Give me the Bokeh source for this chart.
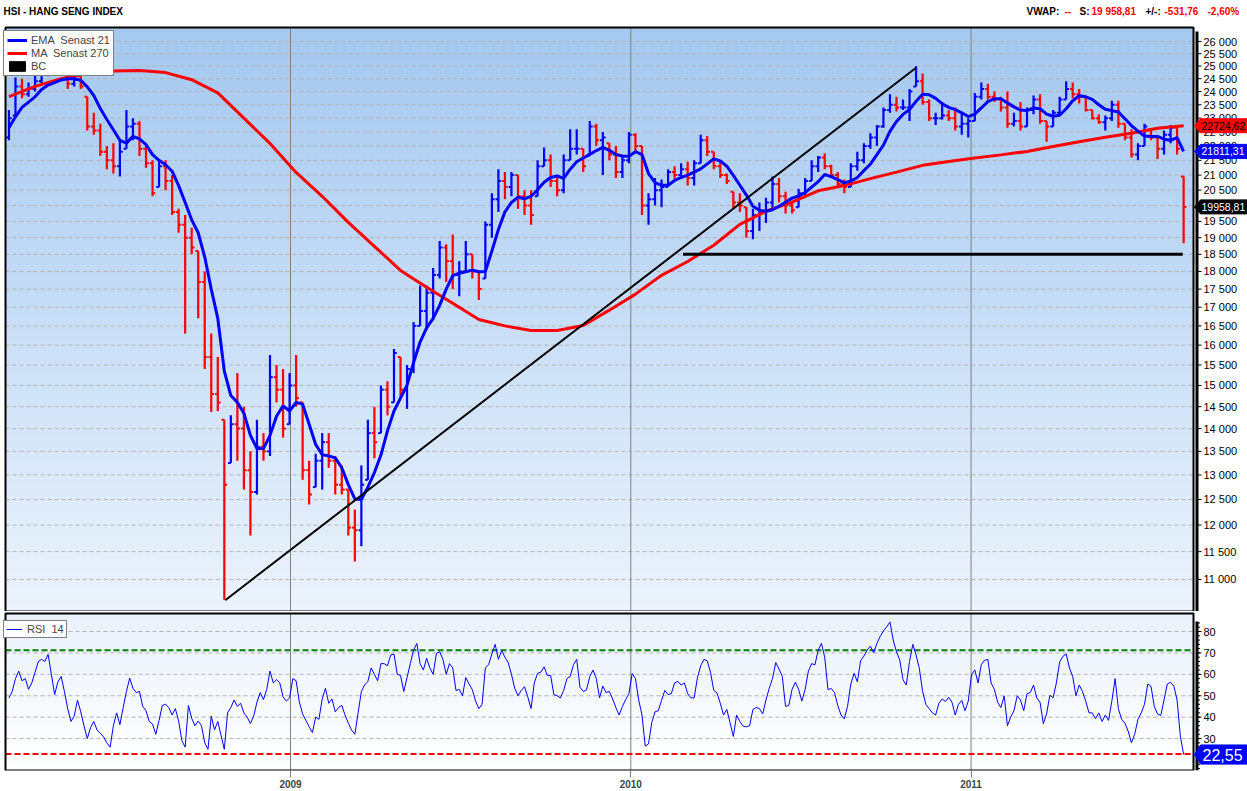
import numpy as np
import pandas as pd
from bokeh.plotting import figure
from bokeh.layouts import column
from bokeh.models import (Range1d, FixedTicker, CustomJSTickFormatter, Legend, LegendItem,
                          ColumnDataSource)
from bokeh.embed import file_html
from bokeh.resources import INLINE
from bokeh.core.properties import value

# ---------------- data (weekly bars) ----------------
START = "2008-03-05"
first_open = 22300
closes = [
    23000, 24200, 23900, 24100, 24400, 24800, 25100, 25500, 25000, 24300,
    24600, 24200, 22700, 22550, 21800, 21500, 21300, 21800, 22700, 22800,
    21900, 21400, 20400, 21300, 20800, 19800, 19400, 19000, 18700, 17700,
    15700, 14800, 14600, 12800, 14100, 14000, 13100, 12650, 13600, 13500,
    15200, 14900, 14000, 15000, 14700, 13100, 12600, 13300, 13700, 13300,
    12800, 12700, 11950, 11900, 12800, 13900, 13700, 14900, 14500, 15800,
    14900, 15400, 16500, 16900, 17400, 17900, 18700, 18300, 17900, 18000,
    18500, 18000, 17500, 19400, 20200, 20800, 20600, 21000, 20300, 20000,
    19700, 21300, 21500, 20800, 20500, 21500, 21900, 21900, 21300, 22700,
    22200, 22300, 21700, 21100, 21500, 22400, 22000, 20000, 20200, 20500,
    20600, 21100, 21000, 21200, 20900, 21400, 22200, 21800, 21300, 21000,
    20800, 20100, 20000, 19200, 19700, 19800, 20100, 20700, 20300, 20000,
    19850, 20400, 20800, 21300, 21600, 21300, 21000, 20700, 20600, 21300,
    21500, 22000, 22300, 22700, 23300, 23500, 23400, 23400, 24000, 24400,
    23600, 23000, 23000, 23100, 23000, 22700, 22800, 22900, 23800, 24100,
    23800, 23700, 23400, 22800, 22900, 22700, 23300, 23700, 22900, 22700,
    23200, 23700, 24100, 23900, 23800, 23300, 23000, 22850, 23000, 23500,
    22800, 22300, 21700, 22000, 22700, 22300, 21900, 22400, 22650, 21900,
    19958.81]
highs = [
    23300, 24550, 24500, 24350, 24650, 25000, 25300, 25700, 25600, 25200,
    24900, 24700, 23800, 23200, 22800, 22000, 22100, 22200, 23300, 23000,
    22900, 22100, 21500, 21500, 21500, 21000, 19900, 19700, 19300, 18600,
    18000, 16300, 15700, 14200, 14300, 15300, 14500, 13500, 14200, 13900,
    15750, 15500, 15400, 15300, 15750, 14600, 13300, 13450, 13900, 13900,
    13400, 13200, 12700, 12300, 13200, 14200, 14500, 15000, 15100, 15900,
    15700, 15500, 16600, 17600, 17600, 18100, 18900, 18800, 19100, 18300,
    18900, 18500, 18000, 19500, 20400, 21200, 21100, 21100, 21000, 20500,
    20500, 21500, 21950, 21700, 21000, 21700, 22600, 22600, 21900, 22900,
    22800, 22500, 22100, 22000, 21650, 22500, 22450, 22000, 20400, 20900,
    20850, 21200, 21300, 21400, 21450, 21500, 22400, 22350, 21800, 21450,
    21050, 20450, 20400, 19950, 19900, 20100, 20250, 20950, 20900, 20450,
    20100, 20550, 20900, 21500, 21650, 21750, 21350, 21100, 20850, 21400,
    21800, 22100, 22450, 22750, 23400, 23900, 23800, 23700, 24100, 24990,
    24700, 23700, 23200, 23600, 23300, 23400, 23200, 23000, 23950, 24350,
    24300, 24000, 23800, 24000, 23200, 23600, 23400, 23850, 23900, 22900,
    23300, 23800, 24400, 24350, 24100, 23800, 23300, 23150, 23100, 23650,
    23650, 22800, 22600, 22100, 22800, 22600, 22300, 22550, 22750, 22700,
    20950]
lows = [
    22200, 23100, 23750, 23800, 24000, 24300, 24600, 25000, 24800, 24100,
    24200, 24100, 22550, 22400, 21650, 21200, 21050, 20950, 21900, 22200,
    21650, 21250, 20300, 20600, 20500, 19700, 19150, 16300, 18500, 16700,
    15400, 14380, 14400, 10650, 13250, 13300, 12700, 11800, 12600, 13300,
    13400, 14600, 13800, 14100, 14500, 12900, 12400, 12750, 12700, 13150,
    12600, 12600, 11800, 11320, 11600, 12900, 13350, 13900, 14300, 14600,
    14700, 14450, 15300, 16500, 16400, 16650, 17800, 17700, 17500, 17300,
    18000, 17800, 17200, 17800, 19000, 19800, 20200, 20300, 19900, 19700,
    19400, 20300, 21300, 20600, 20300, 20400, 21500, 21700, 21100, 21700,
    22000, 21000, 21500, 20900, 20900, 21400, 21800, 19700, 19400, 20000,
    19950, 20600, 20880, 20900, 20650, 20650, 21400, 21650, 21200, 20900,
    20700, 19900, 19800, 19000, 18950, 19200, 19450, 19850, 20100, 19750,
    19750, 19950, 20350, 20800, 21100, 21200, 20900, 20600, 20400, 20600,
    21150, 21400, 21900, 22000, 22650, 23200, 23250, 23300, 22900, 24200,
    23500, 22900, 22750, 22950, 22900, 22550, 22400, 22300, 22900, 23700,
    23700, 23600, 23250, 22650, 22700, 22550, 22700, 23150, 22800, 22150,
    22700, 23100, 23700, 23750, 23550, 23250, 22950, 22800, 22550, 22900,
    22650, 22200, 21600, 21500, 22000, 22200, 21550, 21700, 22100, 21700,
    18830]
ema21 = [
    22650, 23050, 23400, 23600, 23800, 24080, 24250, 24350, 24450, 24500,
    24500, 24440, 24180, 23850, 23360, 22950, 22580, 22200, 22100, 22340,
    22250, 22050, 21700, 21500, 21350, 21130, 20650, 20100, 19550, 19150,
    18420, 17500, 16700, 15350, 14760, 14600, 14350, 13850, 13560, 13560,
    13850, 14280, 14520, 14400, 14600, 14560, 14100, 13650, 13430, 13400,
    13360, 13150, 12800, 12510, 12500, 12750, 13050, 13420, 13950, 14400,
    14700, 15010, 15560, 16080, 16450, 16700, 17050, 17500, 17880, 17950,
    17990, 18040, 17990, 18000, 18600, 19250, 19800, 20100, 20270, 20220,
    20300, 20510, 20760, 20920, 20970, 20890, 21200, 21450, 21580, 21700,
    21840, 21950, 21850, 21700, 21650, 21640, 21800, 21700, 21050, 20750,
    20660, 20660, 20820, 20920, 21000, 21100, 21210, 21380, 21550, 21480,
    21300, 20990, 20660, 20340, 19980, 19850, 19820, 19870, 19980, 20110,
    20240, 20310, 20420, 20600, 20780, 21020, 20950, 20850, 20740, 20800,
    20920, 21150, 21370, 21700, 22030, 22520, 22880, 23140, 23320, 23630,
    23900, 23880, 23740, 23540, 23400, 23320, 23200, 23060, 23150, 23380,
    23620, 23730, 23730, 23570, 23420, 23300, 23280, 23380, 23350, 23150,
    23070, 23110, 23350, 23650, 23840, 23800, 23700, 23500, 23330, 23280,
    23230, 22980, 22730, 22530, 22350, 22340, 22340, 22240, 22200, 22300,
    21811.31]
ma270 = [
    23810, 24200, 24500, 24720, 24800, 24820, 24740, 24460, 23950, 23000,
    22090, 21090, 20300, 19470, 18740, 18030, 17550, 17110, 16670, 16500,
    16380, 16380, 16510, 16920, 17360, 17890, 18290, 18770, 19410, 19820,
    20110, 20480, 20650, 20880, 21100, 21330, 21460, 21580, 21690, 21810,
    21980, 22150, 22310, 22450, 22630, 22724.62]
rsi14 = [
    49, 52, 58, 61.5, 57, 58, 53, 56, 61, 66,
    67, 66, 69.3, 60, 50.5, 56.5, 59, 52, 44, 38,
    40.5, 48, 42.5, 36, 30, 35.1, 38, 34, 32.5, 30.8,
    28, 26, 36, 42, 36.5, 44.5, 52, 58.2, 53.5, 51.5,
    52, 45, 43, 38, 36.8, 32, 38.5, 45.5, 46, 44.5,
    41, 44, 38.2, 29, 26, 45.5, 39.5, 36, 38.2, 36,
    28, 25, 40.5, 34, 38, 31.5, 25, 42, 44.5, 48,
    45, 46.5, 42, 40, 37, 40.5, 47, 51.5, 48.2, 53,
    61.5, 56, 57.5, 56, 49.5, 47.5, 49, 58, 57, 47,
    41.5, 38.5, 35.5, 32.8, 40, 39, 48.5, 53.5, 46.5, 48.5,
    42.5, 44.5, 45.5, 41, 37.2, 34, 32, 42, 52, 55,
    56.7, 63, 60, 57, 65, 65, 64, 69, 69.5, 60,
    59.5, 52, 58.5, 65, 71.3, 74.4, 65, 62, 67.5, 63,
    60, 69.8, 70.5, 67, 60, 65, 63, 52.5, 52.9, 50,
    58.5, 55.5, 52.9, 47.5, 44, 46, 63, 64.5, 69.5, 74,
    67, 71, 68, 65.5, 60, 53.5, 50, 52.5, 54.2, 49.5,
    44, 56, 60.5, 61, 63.5, 59.5, 59.5, 50.5, 50, 49,
    52.5, 58, 59, 64.5, 67, 54, 52, 52.7, 59, 62,
    58, 49, 54.5, 51.5, 52, 48.5, 44.5, 41, 45, 48.2,
    51, 60.4, 58, 48, 41, 26.5, 27.5, 37.5, 42.5, 43,
    47.8, 52.5, 50.5, 51, 56, 56.7, 55, 56, 51, 49,
    49, 58.5, 64, 67, 66.3, 61, 52.5, 51.3, 46.5, 41,
    43.6, 37.4, 31, 41, 38, 35.8, 35.5, 36, 43.6, 44.5,
    44, 41.5, 48, 53.5, 58, 65.5, 62.5, 59, 45, 45.5,
    53, 56.3, 53, 47.5, 52.9, 61.5, 65, 64.4, 71.3, 74.5,
    68, 52.9, 53.4, 51.5, 45.5, 41, 39.2, 45, 55.5, 60.5,
    56.5, 66.3, 68.5, 71.3, 73.2, 70, 74.4, 77.7, 80.2, 82.2,
    84.4, 76, 70.5, 66.7, 57.4, 55, 66, 74, 69, 62.8,
    52, 46, 44, 42, 41, 46.5, 48.5, 47.3, 49.3, 47,
    41, 46, 47.8, 43, 47.5, 59.8, 62.1, 56, 64.6, 66.5,
    67, 56, 53, 47, 44.5, 50, 36, 40, 43, 50,
    48, 43, 51, 51.5, 55, 49, 47, 37, 41.5, 50.2,
    49, 56, 65.7, 68.4, 69.5, 63, 59, 50, 55, 52,
    47.5, 42, 42, 39.3, 42, 38, 41, 38.5, 47.5, 58,
    44, 39, 37.2, 33.5, 28, 32, 39, 42, 46, 55.5,
    54.4, 45, 41.5, 40.8, 48, 55.5, 56.3, 54.5, 48, 31,
    22.55]
price_ticks = list(range(11000, 26001, 500))
rsi_ticks = [30, 40, 50, 60, 70, 80]
rsi_minor = list(range(16, 86, 2))
year_starts = ["2009-01-01", "2010-01-01", "2011-01-01"]
trend_dates = ["2008-10-23", "2010-11-03"]
trend_values = [10640, 24930]
support_dates = ["2010-02-26", "2011-08-16"]
support_values = [18500, 18500]
rsi_upper, rsi_lower = 71.3, 22.8
last_price, change, change_pct = 19958.81, -531.76, -2.60
ema_last, ma_last, rsi_last = 21811.31, 22724.62, 22.55

# ---------------- layout geometry (canvas pixels) ----------------
FONT = "Liberation Sans"
BLUE, RED = "#0000ff", "#ff0000"
W = 1247
H1, H2 = 611, 179
PX_L, PX_R = 5, 1193            # data area left/right
PY_T, PY_B = 27, 611            # main data area top/bottom
RY_T, RY_B = 613, 769           # RSI data area top/bottom (canvas)
Y0, Y1 = 10450, 26590
R0, R1 = 15.1, 88.4

A = pd.Timestamp("2008-03-01 07:00").value / 1e6
B = pd.Timestamp("2011-08-27 14:00").value / 1e6
mpp = (B - A) / (PX_R - PX_L)


def X(px):
    return A + (px - PX_L) * mpp


kk = np.log(Y1 / Y0) / (PY_B - PY_T)


def Yp(py):
    return float(np.exp(np.log(Y1) - (py - PY_T) * kk))


def PYv(v):
    return PY_T + (np.log(Y1) - np.log(v)) / kk


rk = (R1 - R0) / (RY_B - RY_T)


def Rp(py):
    return R1 - (py - RY_T) * rk


def RPv(v):
    return RY_T + (R1 - v) / rk


def sv(num, dec=2, group=False):
    s = f"{num:,.{dec}f}" if group else f"{num:.{dec}f}"
    return s.replace(",", " ").replace(".", ",")


def hexc(c):
    return "#%02x%02x%02x" % tuple(int(round(v)) for v in c)


week_dates = pd.date_range(START, periods=len(closes), freq="7D")
ma_dates = pd.date_range(START, periods=len(ma270), freq="28D")
rsi_dates = pd.date_range(START, periods=len(rsi14), freq=pd.Timedelta(hours=84))
year_ms = [pd.Timestamp(d).value / 1e6 for d in year_starts]
xr = Range1d(X(0), X(W))


def txt(p, xs, ys, texts, size="11px", color="black", style="normal", align="left"):
    p.text(x=xs, y=ys, text=texts, text_font=value(FONT), text_font_size=size,
           text_color=color, text_font_style=style, text_align=align,
           text_baseline="middle")


def tag(p, py, label, bg, fg, half, size, conv, tx=1201):
    xs = [X(1194), X(1200), X(W + 2), X(W + 2), X(1200)]
    ys = [conv(py), conv(py - half), conv(py - half), conv(py + half), conv(py + half)]
    p.patch(xs, ys, fill_color=bg, line_color=bg)
    txt(p, [X(tx)], [conv(py)], [label], size=size, color=fg)


# ---------------- main price panel ----------------
p1 = figure(width=W, height=H1, x_axis_type="datetime", y_axis_type="log",
            x_range=xr, y_range=Range1d(Yp(PY_B), Yp(0)),
            x_axis_location=None, y_axis_location=None,
            output_backend="svg", toolbar_location=None, title=None,
            min_border_left=0, min_border_right=0, min_border_top=0, min_border_bottom=0)
p1.background_fill_color = "white"
p1.border_fill_color = "white"
p1.outline_line_color = None
p1.xgrid.grid_line_color = None
p1.ygrid.grid_line_color = None

nb = 110
edges = np.geomspace(Y0, Y1, nb + 1)
top_c = np.array([164, 200, 240.0])
bot_c = np.array([236, 243, 252.0])
fr = (np.arange(nb) + 0.5) / nb
band_cols = [hexc(bot_c + (top_c - bot_c) * f) for f in fr]
p1.quad(left=A, right=B, bottom=edges[:-1], top=edges[1:],
        fill_color=band_cols, line_color=band_cols, line_width=1, level="image")

p1.segment(x0=A, x1=B, y0=price_ticks, y1=price_ticks, line_color="#b4b4b4",
           line_dash="4 3", line_width=1, level="underlay")
p1.segment(x0=year_ms, x1=year_ms, y0=Y0, y1=Y1, line_color="#808080",
           line_width=1, level="underlay")

# OHLC bars (open tick = previous close, kept within the bar's range)
c_arr = np.array(closes, dtype=float)
h_arr = np.array(highs, dtype=float)
l_arr = np.array(lows, dtype=float)
o_arr = np.clip(np.r_[first_open, c_arr[:-1]], l_arr, h_arr)
cols = [BLUE if c >= o else RED for o, c in zip(o_arr, c_arr)]
tick = pd.Timedelta(days=3.0)
src = ColumnDataSource(dict(x=week_dates, xl=week_dates - tick, xr=week_dates + tick,
                            o=o_arr, h=h_arr, l=l_arr, c=c_arr, col=cols))
p1.segment(x0="x", y0="l", x1="x", y1="h", line_color="col", line_width=2.2, source=src)
p1.segment(x0="xl", y0="o", x1="x", y1="o", line_color="col", line_width=2, source=src)
p1.segment(x0="x", y0="c", x1="xr", y1="c", line_color="col", line_width=2, source=src)

ma_r = p1.line(ma_dates, ma270, line_color=RED, line_width=3)
ema_r = p1.line(week_dates, ema21, line_color=BLUE, line_width=3)
p1.line(pd.to_datetime(trend_dates), trend_values, line_color="black", line_width=2)
p1.line(pd.to_datetime(support_dates), support_values, line_color="black", line_width=3)
bc_r = p1.quad(left=[A], right=[A], bottom=[5000], top=[5000],
               fill_color="black", line_color="black")

# frame of the data area
p1.quad(left=A, right=B, bottom=Y0, top=Y1, fill_color=None,
        line_color="black", line_width=2)

# right price axis
p1.segment(x0=X(1196.5), x1=X(1196.5), y0=Yp(31), y1=Yp(PY_B), line_color="black",
           line_width=3)
p1.segment(x0=X(1197.5), x1=X(1201), y0=price_ticks, y1=price_ticks,
           line_color="black", line_width=1)
txt(p1, [X(1203)] * len(price_ticks), price_ticks,
    [sv(t, 0, group=True) for t in price_ticks])

tag(p1, PYv(ma_last), sv(ma_last), RED, "black", 7, "10.5px", Yp)
tag(p1, PYv(ema_last), sv(ema_last), BLUE, "white", 7, "10.5px", Yp)
tag(p1, PYv(last_price), sv(last_price), "black", "white", 7, "10.5px", Yp)

# header
hy = Yp(10.5)
txt(p1, [X(3)], [hy], ["HSI - HANG SENG INDEX"], size="10px", style="bold")
hx = [1026, 1064, 1079, 1091, 1145, 1164, 1207]
htext = ["VWAP:", "--", "S:", sv(last_price, group=True), "+/-:", sv(change),
         sv(change_pct) + "%"]
hcol = ["black", RED, "black", RED, "black", RED, RED]
txt(p1, [X(v) for v in hx], [hy] * len(hx), htext, size="10px", color=hcol, style="bold")

leg = Legend(items=[LegendItem(label="EMA  Senast 21", renderers=[ema_r]),
                    LegendItem(label="MA  Senast 270", renderers=[ma_r]),
                    LegendItem(label="BC", renderers=[bc_r])],
             location=(3, PY_B - 76), margin=0, padding=3, spacing=1,
             glyph_width=20, glyph_height=12, label_height=12, label_standoff=4,
             label_text_font=FONT, label_text_font_size="11px",
             border_line_color="black", border_line_width=1,
             background_fill_color="white", background_fill_alpha=1)
p1.add_layout(leg)

# ---------------- RSI panel ----------------
p2 = figure(width=W, height=H2, x_axis_type="datetime", x_range=xr,
            y_range=Range1d(Rp(RY_B), Rp(PY_B)), y_axis_location=None,
            output_backend="svg", toolbar_location=None, title=None,
            min_border_left=0, min_border_right=0, min_border_top=0, min_border_bottom=0)
p2.background_fill_color = "white"
p2.border_fill_color = "white"
p2.outline_line_color = None
p2.xgrid.grid_line_color = None
p2.ygrid.grid_line_color = None

nb2 = 50
edges2 = np.linspace(R0, R1, nb2 + 1)
top2 = np.array([233, 241, 251.0])
bot2 = np.array([255, 255, 255.0])
fr2 = (np.arange(nb2) + 0.5) / nb2
band2 = [hexc(bot2 + (top2 - bot2) * f) for f in fr2]
p2.quad(left=A, right=B, bottom=edges2[:-1], top=edges2[1:],
        fill_color=band2, line_color=band2, line_width=1, level="image")
p2.segment(x0=A, x1=B, y0=rsi_ticks, y1=rsi_ticks, line_color="#b4b4b4",
           line_dash="4 3", line_width=1, level="underlay")
p2.segment(x0=year_ms, x1=year_ms, y0=R0, y1=R1, line_color="#808080",
           line_width=1, level="underlay")
p2.segment(x0=A, x1=B, y0=rsi_upper, y1=rsi_upper, line_color="#008000",
           line_width=2, line_dash="6 3")
p2.segment(x0=A, x1=B, y0=rsi_lower, y1=rsi_lower, line_color=RED,
           line_width=2, line_dash="6 3")

rsi_r = p2.line(rsi_dates, rsi14, line_color=BLUE, line_width=1)

p2.quad(left=A, right=B, bottom=R0, top=R1, fill_color=None,
        line_color="black", line_width=2)

# right RSI axis
p2.segment(x0=X(1196.5), x1=X(1196.5), y0=Rp(621), y1=Rp(RY_B), line_color="black",
           line_width=3)
p2.segment(x0=X(1197.5), x1=X(1201), y0=rsi_ticks, y1=rsi_ticks,
           line_color="black", line_width=1)
p2.segment(x0=X(1197.5), x1=X(1199.5), y0=rsi_minor, y1=rsi_minor,
           line_color="black", line_width=1)
txt(p2, [X(1203)] * len(rsi_ticks), rsi_ticks, [str(t) for t in rsi_ticks])
tag(p2, RPv(rsi_last), sv(rsi_last), BLUE, "white", 9.5, "16px", Rp, tx=1202)

xa = p2.xaxis[0]
xa.ticker = FixedTicker(ticks=year_ms)
xa.formatter = CustomJSTickFormatter(code="return String(new Date(tick).getUTCFullYear());")
xa.bounds = (A, B)
xa.axis_line_color = None
xa.major_label_text_font = FONT
xa.major_label_text_font_size = "10px"
xa.major_label_text_font_style = "bold"
xa.major_tick_in = 0
xa.major_tick_out = 7
xa.major_tick_line_color = "#808080"
xa.minor_tick_line_color = None
xa.major_label_standoff = 2

leg2 = Legend(items=[LegendItem(label="RSI  14", renderers=[rsi_r])],
              location=(3, RY_B - 637), margin=0, padding=2, spacing=0,
              glyph_width=16, glyph_height=12, label_height=12, label_standoff=5,
              label_text_font=FONT, label_text_font_size="11px",
              border_line_color="black", border_line_width=1,
              background_fill_color="white", background_fill_alpha=1)
p2.add_layout(leg2)

layout = column(p1, p2, spacing=0)
open("out.html", "w").write(file_html(layout, INLINE))
